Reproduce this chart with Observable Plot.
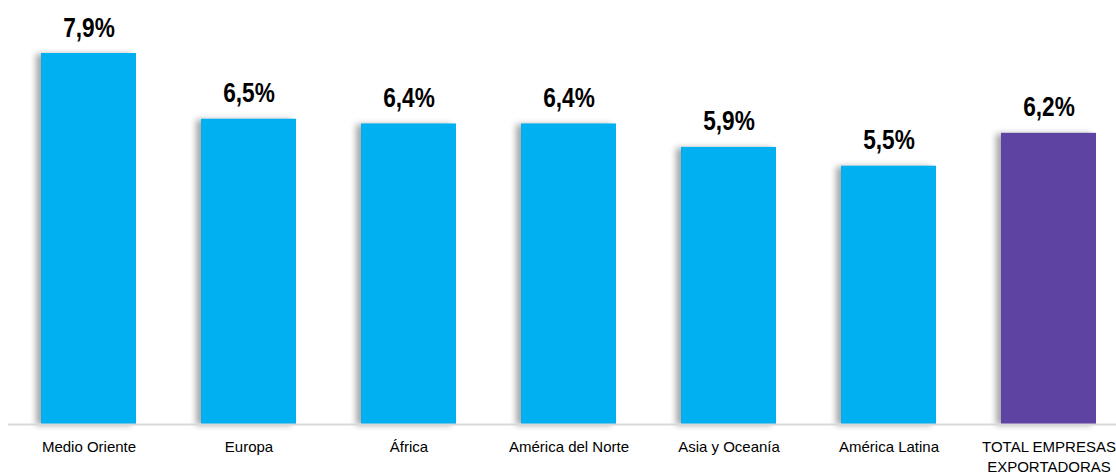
<!DOCTYPE html>
<html>
<head>
<meta charset="utf-8">
<script src="https://cdn.jsdelivr.net/npm/d3@7"></script>
<script src="https://cdn.jsdelivr.net/npm/@observablehq/plot@0.6"></script>
<style>
  html, body { margin: 0; padding: 0; background: #fff; }
  #chart svg { display: block; }
</style>
</head>
<body>
<div id="chart"></div>
<script>
const categories = ["Medio Oriente", "Europa", "África", "América del Norte", "Asia y Oceanía", "América Latina", "TOTAL EMPRESAS\nEXPORTADORAS"];
const values = [7.9, 6.5, 6.4, 6.4, 5.9, 5.5, 6.2];
const labels = ["7,9%", "6,5%", "6,4%", "6,4%", "5,9%", "5,5%", "6,2%"];
const groups = ["región", "región", "región", "región", "región", "región", "total"];

const data = categories.map((c, i) => ({category: c, value: values[i], label: labels[i], group: groups[i]}));
const FONT = "'Liberation Sans', Arial, sans-serif";

const chart = Plot.plot({
  width: 1116,
  height: 474,
  marginLeft: 8,
  marginRight: 0,
  marginTop: 0,
  marginBottom: 50,
  style: {fontFamily: FONT, background: "#fff"},
  x: {domain: categories, range: [8.5, 1128.5], paddingInner: 0.406, paddingOuter: 0.203, label: null},
  y: {domain: [0, 7.9], range: [424, 53], axis: null},
  color: {domain: ["región", "total"], range: ["#00B0F0", "#5F43A3"]},
  marks: [
    Plot.barY(data, {x: "category", y: "value", fill: "group"}),
    Plot.ruleY([0], {stroke: "#d9d9d9", strokeWidth: 2}),
    Plot.text(data, {x: "category", y: "value", text: "label", lineAnchor: "bottom", dy: -17, fontSize: 27, fontWeight: "bold", fill: "#000", className: "vlabel"}),
    Plot.axisX({tickSize: 0, tickPadding: 14, fontSize: 15, fill: "#000", lineHeight: 1.3})
  ]
});
chart.querySelectorAll('g[aria-label="bar"]').forEach(g => {
  g.style.filter = "drop-shadow(-5px 1px 3px rgba(0,0,0,0.35))";
});
// condensed look for the value labels (narrow bold face in the reference)
chart.querySelectorAll('g[aria-label="text"] text').forEach(t => {
  const tr = t.getAttribute("transform") || "";
  t.setAttribute("transform", tr + " scale(0.84,1)");
});
document.getElementById("chart").appendChild(chart);
</script>
</body>
</html>
